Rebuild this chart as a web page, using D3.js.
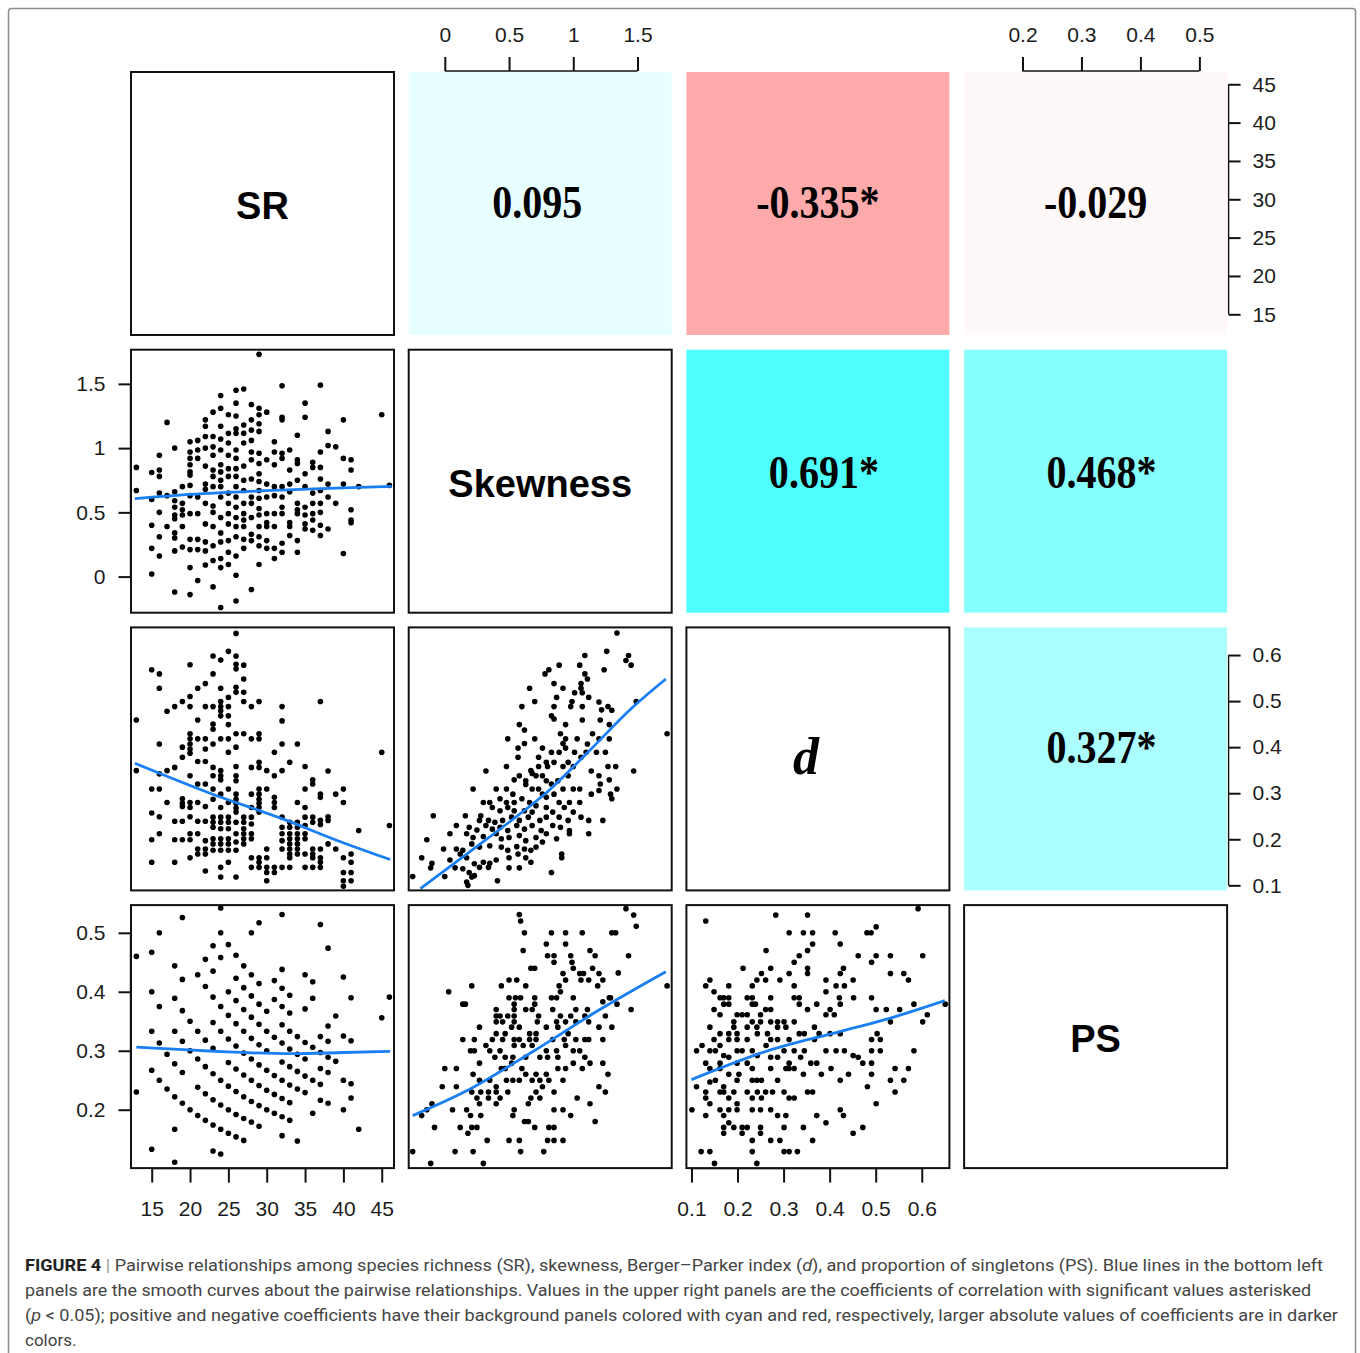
<!DOCTYPE html>
<html>
<head>
<meta charset="utf-8">
<script src="https://cdn.jsdelivr.net/npm/d3@7/dist/d3.min.js"></script>
<style>
body { margin: 0; background: #fff; }
</style>
</head>
<body>
<script>
// variables on the diagonal
var varNames = ["SR", "Skewness", "d", "PS"];

// panel ranges and tick values
var srDomain = [12.3, 46.6];
var skewDomain = [-0.281, 1.766];
var dDomain = [0.089, 0.660];
var psDomain = [0.101, 0.547];

var srTicks = [15, 20, 25, 30, 35, 40, 45];
var skewTicks = [0, 0.5, 1, 1.5];
var dTicks = [0.1, 0.2, 0.3, 0.4, 0.5, 0.6];
var psTicks = [0.2, 0.3, 0.4, 0.5];

// correlation coefficients in the upper panels
var corRow = [0, 0, 0, 1, 1, 2];
var corCol = [1, 2, 3, 2, 3, 3];
var corValue = [0.095, -0.335, -0.029, 0.691, 0.468, 0.327];
var corSig = [false, true, false, true, true, true];

// SR (integer) vs skewness
var srSkew = [
  [13, [0.85, 0.67]],
  [15, [0.81, 0.60, 0.40, 0.22, 0.02]],
  [16, [0.945, 0.83, 0.78, 0.65, 0.50, 0.31, 0.16]],
  [17, [1.20, 0.63, 0.39]],
  [18, [1.0, 0.66, 0.59, 0.54, 0.48, 0.45, 0.34, 0.30, 0.20, -0.12]],
  [19, [0.70, 0.57, 0.52, 0.48, 0.39, 0.23]],
  [20, [1.05, 0.97, 0.92, 0.87, 0.815, 0.79, 0.71, 0.63, 0.49, 0.29, 0.21, 0.07, -0.14]],
  [21, [1.06, 0.985, 0.92, 0.62, 0.49, 0.29, 0.21, -0.03]],
  [22, [1.22, 1.17, 1.09, 1.0, 0.86, 0.72, 0.68, 0.57, 0.41, 0.27, 0.20, 0.09]],
  [23, [1.28, 1.09, 1.01, 0.945, 0.83, 0.78, 0.70, 0.55, 0.50, 0.39, 0.24, 0.125, -0.08]],
  [24, [1.41, 1.31, 1.17, 1.07, 0.985, 0.87, 0.815, 0.75, 0.70, 0.62, 0.46, 0.34, 0.27, 0.14, 0.07, -0.24]],
  [25, [1.26, 1.115, 1.04, 0.945, 0.84, 0.78, 0.65, 0.57, 0.49, 0.41, 0.28, 0.19, 0.094]],
  [26, [1.45, 1.35, 1.25, 1.15, 1.115, 0.985, 0.92, 0.84, 0.78, 0.70, 0.62, 0.54, 0.46, 0.39, 0.31, 0.16, 0.01, -0.19]],
  [27, [1.46, 1.18, 1.115, 1.04, 0.86, 0.75, 0.67, 0.57, 0.49, 0.44, 0.39, 0.29, 0.22]],
  [28, [1.34, 1.22, 1.14, 1.06, 0.97, 0.91, 0.76, 0.62, 0.57, 0.46, 0.33, 0.28, -0.10]],
  [29, [1.73, 1.31, 1.26, 1.19, 1.13, 0.96, 0.88, 0.80, 0.74, 0.67, 0.61, 0.53, 0.48, 0.39, 0.31, 0.24, 0.094]],
  [30, [1.28, 0.91, 0.72, 0.62, 0.49, 0.42, 0.39, 0.28, 0.22]],
  [31, [1.05, 0.97, 0.87, 0.70, 0.63, 0.49, 0.39, 0.22, 0.14]],
  [32, [1.485, 1.24, 1.22, 0.96, 0.92, 0.70, 0.62, 0.54, 0.49, 0.26, 0.19]],
  [33, [0.985, 0.83, 0.72, 0.66, 0.42, 0.39, 0.32]],
  [34, [1.10, 0.91, 0.88, 0.75, 0.57, 0.52, 0.49, 0.28, 0.19]],
  [35, [1.35, 1.24, 0.80, 0.70, 0.54, 0.48, 0.41, 0.37]],
  [36, [0.89, 0.85, 0.65, 0.57, 0.49, 0.44, 0.36]],
  [37, [1.49, 0.97, 0.85, 0.76, 0.67, 0.57, 0.50, 0.40, 0.32]],
  [38, [1.13, 1.02, 0.72, 0.62, 0.37]],
  [39, [1.01, 0.57]],
  [40, [1.22, 0.92, 0.72, 0.18]],
  [41, [0.91, 0.83, 0.52, 0.44, 0.42]],
  [42, [0.70]],
  [45, [1.26]],
  [46, [0.71]]
];

// SR vs Berger-Parker d
var srD = [
  [13, [0.459, 0.349]],
  [15, [0.568, 0.309, 0.257, 0.199, 0.150]],
  [16, [0.559, 0.528, 0.407, 0.342, 0.309, 0.249, 0.212]],
  [17, [0.478, 0.349, 0.280]],
  [18, [0.488, 0.356, 0.239, 0.199, 0.150]],
  [19, [0.499, 0.400, 0.378, 0.288, 0.278, 0.271, 0.239, 0.199]],
  [20, [0.579, 0.510, 0.488, 0.429, 0.418, 0.407, 0.396, 0.387, 0.338, 0.280, 0.269, 0.249, 0.212, 0.199, 0.160]],
  [21, [0.528, 0.459, 0.418, 0.369, 0.320, 0.280, 0.239, 0.212, 0.179, 0.168]],
  [22, [0.538, 0.488, 0.418, 0.396, 0.369, 0.320, 0.271, 0.239, 0.197, 0.179, 0.168, 0.131]],
  [23, [0.598, 0.559, 0.488, 0.450, 0.439, 0.407, 0.356, 0.338, 0.309, 0.287, 0.248, 0.237, 0.226, 0.201, 0.190, 0.176]],
  [24, [0.589, 0.528, 0.499, 0.488, 0.479, 0.468, 0.418, 0.349, 0.338, 0.329, 0.298, 0.269, 0.248, 0.237, 0.223, 0.201, 0.190, 0.176, 0.139, 0.118]],
  [25, [0.608, 0.508, 0.488, 0.468, 0.449, 0.418, 0.389, 0.309, 0.280, 0.248, 0.237, 0.223, 0.201, 0.190, 0.176, 0.150]],
  [26, [0.647, 0.598, 0.580, 0.570, 0.530, 0.519, 0.429, 0.400, 0.358, 0.338, 0.327, 0.298, 0.287, 0.278, 0.268, 0.259, 0.237, 0.212, 0.194, 0.176, 0.118]],
  [27, [0.578, 0.548, 0.519, 0.499, 0.429, 0.248, 0.237, 0.223, 0.212, 0.201, 0.190]],
  [28, [0.488, 0.418, 0.356, 0.298, 0.269, 0.248, 0.233, 0.212, 0.201, 0.160, 0.139]],
  [29, [0.499, 0.429, 0.418, 0.367, 0.356, 0.309, 0.298, 0.287, 0.278, 0.269, 0.259, 0.160, 0.150, 0.139]],
  [30, [0.349, 0.309, 0.179, 0.160, 0.139, 0.128, 0.110]],
  [31, [0.389, 0.338, 0.291, 0.280, 0.269, 0.139, 0.128]],
  [32, [0.488, 0.457, 0.407, 0.349, 0.248, 0.226, 0.212, 0.197, 0.179, 0.139]],
  [33, [0.367, 0.237, 0.226, 0.212, 0.201, 0.190, 0.179, 0.168, 0.160, 0.139]],
  [34, [0.407, 0.280, 0.237, 0.226, 0.212, 0.201, 0.190, 0.179, 0.168]],
  [35, [0.358, 0.309, 0.269, 0.248, 0.230, 0.212, 0.201, 0.168, 0.139]],
  [36, [0.329, 0.320, 0.248, 0.237, 0.179, 0.168, 0.160, 0.139]],
  [37, [0.499, 0.298, 0.291, 0.241, 0.232, 0.179, 0.160, 0.150, 0.139]],
  [38, [0.348, 0.249, 0.241, 0.190]],
  [39, [0.298, 0.179]],
  [40, [0.309, 0.280, 0.160, 0.128, 0.110, 0.098]],
  [41, [0.168, 0.150, 0.128, 0.110]],
  [42, [0.219]],
  [45, [0.389]],
  [46, [0.230]]
];

// SR vs proportion of singletons
var srPS = [
  [13, [0.460, 0.230]],
  [15, [0.467, 0.400, 0.333, 0.267, 0.133]],
  [16, [0.500, 0.375, 0.313, 0.250]],
  [17, [0.294, 0.235]],
  [18, [0.444, 0.389, 0.333, 0.278, 0.222, 0.167, 0.111]],
  [19, [0.526, 0.421, 0.368, 0.316, 0.263, 0.211]],
  [20, [0.350, 0.300, 0.200]],
  [21, [0.429, 0.333, 0.286, 0.238, 0.190]],
  [22, [0.455, 0.409, 0.318, 0.273, 0.227, 0.182]],
  [23, [0.478, 0.435, 0.391, 0.348, 0.304, 0.261, 0.217, 0.174, 0.130]],
  [24, [0.542, 0.500, 0.458, 0.375, 0.333, 0.250, 0.208, 0.167, 0.125]],
  [25, [0.480, 0.400, 0.360, 0.320, 0.280, 0.240, 0.200, 0.160]],
  [26, [0.462, 0.423, 0.385, 0.346, 0.308, 0.269, 0.231, 0.192, 0.154]],
  [27, [0.444, 0.407, 0.370, 0.333, 0.296, 0.259, 0.222, 0.185, 0.148]],
  [28, [0.500, 0.429, 0.393, 0.357, 0.321, 0.286, 0.250, 0.214, 0.179]],
  [29, [0.517, 0.414, 0.379, 0.345, 0.310, 0.276, 0.241, 0.207, 0.172]],
  [30, [0.367, 0.333, 0.300, 0.267, 0.233, 0.200]],
  [31, [0.419, 0.387, 0.323, 0.258, 0.226, 0.194]],
  [32, [0.531, 0.438, 0.406, 0.375, 0.344, 0.313, 0.281, 0.250, 0.219, 0.188, 0.156]],
  [33, [0.394, 0.364, 0.333, 0.303, 0.273, 0.242, 0.212, 0.182]],
  [34, [0.324, 0.294, 0.265, 0.235, 0.147]],
  [35, [0.429, 0.371, 0.314, 0.286, 0.257, 0.229]],
  [36, [0.417, 0.389, 0.306, 0.250, 0.194]],
  [37, [0.514, 0.324, 0.297, 0.270, 0.243, 0.216]],
  [38, [0.474, 0.342, 0.316, 0.289, 0.263, 0.211]],
  [39, [0.359, 0.282]],
  [40, [0.425, 0.325, 0.250, 0.200]],
  [41, [0.390, 0.317, 0.244, 0.220]],
  [42, [0.167]],
  [45, [0.356]],
  [46, [0.391]]
];

// skewness vs d
var skewD = [
  [1.34,0.648],[1.26,0.608],[1.09,0.599],[1.43,0.599],[1.41,0.588],[1.45,0.578],[0.89,0.578],[1.05,0.578],
  [0.81,0.568],[0.78,0.559],[1.24,0.568],[1.09,0.559],[1.11,0.548],[0.85,0.538],[1.06,0.538],[0.66,0.528],
  [0.92,0.528],[1.01,0.518],[1.06,0.528],[1.07,0.518],[0.87,0.508],[1.12,0.508],[0.70,0.499],[0.99,0.499],
  [0.98,0.488],[0.85,0.488],[1.07,0.488],[1.20,0.498],[1.27,0.488],[0.60,0.488],[1.22,0.481],[1.30,0.480],
  [1.49,0.499],[0.83,0.468],[0.85,0.461],[1.07,0.459],[1.21,0.459],[0.94,0.449],[0.58,0.449],[0.62,0.437],
  [1.28,0.449],[1.15,0.429],[0.90,0.429],[0.49,0.418],[0.94,0.418],[0.70,0.418],[1.03,0.418],[0.92,0.408],
  [0.62,0.408],[0.76,0.398],[0.57,0.398],[1.11,0.407],[1.20,0.418],[1.28,0.418],[0.94,0.398],[1.73,0.429],
  [1.25,0.389],[0.83,0.389],[0.89,0.389],[1.01,0.389],[1.10,0.389],[1.18,0.389],[1.06,0.378],[0.57,0.378],
  [0.73,0.378],[0.79,0.367],[0.85,0.367],[0.96,0.367],[0.48,0.358],[0.73,0.358],[0.67,0.349],[0.80,0.358],
  [0.32,0.348],[0.58,0.338],[0.68,0.343],[0.71,0.338],[0.76,0.338],[0.92,0.358],[1.00,0.358],[1.14,0.348],
  [1.27,0.358],[1.33,0.358],[1.47,0.348],[1.20,0.338],[0.54,0.329],[0.63,0.327],[0.79,0.327],[0.83,0.320],
  [0.88,0.327],[0.96,0.338],[1.28,0.329],[0.22,0.309],[0.40,0.309],[0.48,0.309],[0.53,0.298],[0.63,0.319],
  [0.68,0.309],[0.73,0.309],[0.76,0.298],[0.85,0.298],[0.92,0.309],[1.00,0.309],[1.05,0.309],[1.21,0.320],
  [1.20,0.306],[1.29,0.298],[1.34,0.309],[0.30,0.280],[0.35,0.280],[0.43,0.288],[0.48,0.280],[0.54,0.280],
  [0.60,0.288],[0.66,0.280],[0.71,0.273],[0.79,0.291],[0.89,0.280],[0.97,0.280],[1.05,0.280],[1.14,0.298],
  [1.30,0.288],[0.37,0.269],[0.43,0.262],[0.49,0.269],[0.54,0.262],[0.62,0.262],[0.68,0.259],[0.79,0.269],
  [0.84,0.259],[0.93,0.269],[1.00,0.259],[0.28,0.251],[-0.09,0.251],[0.16,0.251],[0.27,0.241],[0.34,0.241],
  [0.39,0.237],[0.45,0.241],[0.52,0.248],[0.58,0.241],[0.65,0.248],[0.74,0.241],[0.79,0.248],[0.89,0.248],
  [0.96,0.241],[1.06,0.248],[1.12,0.241],[1.23,0.241],[0.09,0.230],[0.19,0.226],[0.25,0.220],[0.32,0.230],
  [0.37,0.222],[0.43,0.226],[0.49,0.219],[0.56,0.230],[0.62,0.222],[0.68,0.230],[0.75,0.219],[0.84,0.230],
  [0.90,0.226],[0.97,0.219],[-0.14,0.199],[0.04,0.212],[0.17,0.212],[0.22,0.204],[0.30,0.206],[0.40,0.212],
  [0.44,0.201],[0.50,0.204],[0.58,0.208],[0.63,0.197],[0.71,0.204],[0.79,0.212],[0.87,0.201],[0.97,0.212],
  [1.12,0.212],[-0.01,0.179],[0.09,0.179],[0.14,0.176],[0.21,0.190],[0.27,0.183],[0.35,0.186],[0.44,0.183],
  [0.49,0.176],[0.56,0.184],[0.62,0.179],[0.67,0.176],[0.71,0.183],[0.76,0.194],[-0.18,0.160],[-0.10,0.148],
  [0.04,0.155],[0.12,0.168],[0.17,0.160],[0.23,0.147],[0.30,0.150],[0.35,0.148],[0.40,0.155],[0.50,0.160],
  [0.57,0.168],[0.63,0.160],[0.67,0.150],[0.91,0.168],[0.91,0.160],[-0.25,0.119],[-0.11,0.138],[0.00,0.119],
  [0.08,0.138],[0.14,0.136],[0.19,0.128],[0.27,0.139],[0.34,0.139],[0.50,0.138],[0.58,0.138],[0.83,0.128],
  [0.17,0.107],[0.18,0.100],[0.41,0.110],[0.23,0.121],[0.21,0.118]
];

// skewness vs PS
var skewPS = [
  [1.41,0.541],[1.47,0.530],[1.49,0.511],[0.58,0.531],[0.59,0.520],[0.62,0.500],[0.83,0.500],[0.94,0.500],
  [1.07,0.500],[1.30,0.500],[1.33,0.500],[0.79,0.481],[0.94,0.481],[0.61,0.470],[0.80,0.461],[0.85,0.461],
  [0.85,0.450],[0.98,0.461],[0.99,0.450],[1.13,0.470],[1.17,0.461],[1.43,0.461],[0.67,0.440],[0.70,0.440],
  [1.00,0.440],[0.92,0.431],[1.05,0.431],[1.08,0.431],[1.15,0.440],[1.20,0.431],[1.06,0.420],[1.12,0.420],
  [1.23,0.420],[1.35,0.432],[0.50,0.420],[0.56,0.420],[0.44,0.410],[0.63,0.410],[0.94,0.420],[0.89,0.410],
  [1.19,0.410],[0.03,0.400],[0.21,0.410],[0.90,0.400],[0.87,0.390],[1.00,0.390],[1.28,0.390],[1.29,0.390],
  [0.50,0.390],[0.55,0.390],[0.59,0.390],[0.70,0.390],[0.83,0.390],[0.14,0.379],[0.16,0.379],[0.54,0.379],
  [0.70,0.379],[1.23,0.383],[1.34,0.379],[0.40,0.370],[0.54,0.370],[0.63,0.370],[0.68,0.370],[0.84,0.370],
  [1.02,0.370],[1.11,0.370],[1.45,0.370],[0.40,0.359],[0.43,0.359],[0.49,0.359],[0.54,0.359],[0.73,0.359],
  [0.90,0.359],[0.98,0.359],[1.09,0.359],[1.25,0.359],[0.27,0.340],[0.40,0.349],[0.45,0.349],[0.54,0.349],
  [0.72,0.349],[0.79,0.340],[0.87,0.349],[0.94,0.349],[1.02,0.349],[1.12,0.349],[1.20,0.340],[1.30,0.340],
  [0.40,0.329],[0.47,0.329],[0.52,0.340],[0.58,0.340],[0.66,0.329],[0.71,0.329],[0.88,0.340],[0.96,0.329],
  [0.14,0.319],[0.23,0.319],[0.32,0.309],[0.37,0.319],[0.45,0.319],[0.54,0.319],[0.58,0.319],[0.66,0.319],
  [0.71,0.319],[0.84,0.319],[0.93,0.319],[1.02,0.319],[1.09,0.319],[1.12,0.319],[1.23,0.319],[0.20,0.300],
  [0.23,0.300],[0.35,0.300],[0.43,0.300],[0.54,0.309],[0.61,0.309],[0.68,0.309],[0.79,0.300],[0.87,0.300],
  [0.94,0.309],[1.00,0.300],[1.05,0.300],[1.09,0.289],[0.27,0.279],[0.39,0.289],[0.47,0.289],[0.53,0.289],
  [0.63,0.289],[0.74,0.289],[0.80,0.289],[0.88,0.289],[1.13,0.279],[1.23,0.279],[0.00,0.270],[0.09,0.270],
  [0.22,0.260],[0.44,0.270],[0.47,0.270],[0.52,0.279],[0.60,0.270],[0.63,0.260],[0.71,0.260],[0.79,0.260],
  [0.88,0.270],[0.94,0.270],[1.00,0.279],[1.07,0.270],[1.27,0.260],[-0.02,0.239],[0.09,0.239],[0.27,0.250],
  [0.35,0.250],[0.40,0.239],[0.48,0.250],[0.53,0.250],[0.58,0.250],[0.68,0.250],[0.74,0.250],[0.81,0.250],
  [0.92,0.250],[1.20,0.239],[1.25,0.230],[-0.14,0.200],[-0.10,0.210],[0.06,0.200],[0.21,0.230],[0.28,0.230],
  [0.34,0.230],[0.40,0.230],[0.49,0.230],[0.71,0.230],[0.76,0.239],[0.85,0.230],[0.25,0.220],[0.34,0.220],
  [0.43,0.220],[0.67,0.220],[0.74,0.220],[1.03,0.220],[0.17,0.200],[0.27,0.210],[0.40,0.210],[0.54,0.200],
  [0.65,0.210],[0.85,0.200],[0.92,0.200],[1.13,0.210],[-0.18,0.190],[0.20,0.190],[0.28,0.190],[0.53,0.190],
  [0.62,0.180],[0.65,0.180],[0.98,0.190],[1.17,0.180],[-0.08,0.170],[0.12,0.170],[0.18,0.160],[0.21,0.170],
  [0.25,0.170],[0.70,0.170],[0.81,0.170],[0.85,0.170],[0.33,0.148],[0.50,0.148],[0.58,0.148],[0.80,0.148],
  [0.85,0.148],[0.92,0.148],[-0.25,0.129],[0.08,0.129],[0.22,0.129],[0.59,0.129],[0.77,0.129],[-0.11,0.109],
  [0.30,0.109],[1.73,0.410]
];

// d vs PS
var dPS = [
  [0.131,0.520],[0.283,0.530],[0.352,0.530],[0.592,0.541],[0.312,0.500],[0.343,0.500],[0.363,0.500],[0.412,0.500],
  [0.481,0.500],[0.490,0.500],[0.501,0.510],[0.363,0.481],[0.352,0.470],[0.423,0.481],[0.262,0.470],[0.334,0.461],
  [0.323,0.450],[0.462,0.461],[0.501,0.461],[0.491,0.450],[0.532,0.461],[0.602,0.461],[0.212,0.440],[0.272,0.440],
  [0.352,0.440],[0.312,0.431],[0.352,0.431],[0.252,0.431],[0.242,0.420],[0.261,0.420],[0.292,0.420],[0.430,0.440],
  [0.423,0.431],[0.392,0.420],[0.451,0.420],[0.532,0.431],[0.561,0.431],[0.571,0.420],[0.140,0.420],[0.131,0.410],
  [0.181,0.410],[0.232,0.410],[0.323,0.410],[0.392,0.400],[0.414,0.410],[0.432,0.410],[0.149,0.400],[0.162,0.390],
  [0.170,0.390],[0.181,0.390],[0.221,0.390],[0.232,0.390],[0.272,0.390],[0.323,0.390],[0.334,0.390],[0.421,0.390],
  [0.452,0.390],[0.491,0.390],[0.170,0.379],[0.181,0.379],[0.232,0.379],[0.239,0.379],[0.261,0.370],[0.272,0.370],
  [0.149,0.370],[0.334,0.379],[0.372,0.379],[0.401,0.370],[0.423,0.379],[0.352,0.370],[0.501,0.370],[0.523,0.370],
  [0.552,0.370],[0.583,0.379],[0.651,0.379],[0.162,0.361],[0.199,0.361],[0.210,0.361],[0.221,0.361],[0.250,0.361],
  [0.392,0.361],[0.410,0.361],[0.612,0.361],[0.532,0.349],[0.602,0.349],[0.192,0.349],[0.232,0.349],[0.250,0.349],
  [0.272,0.349],[0.287,0.349],[0.301,0.349],[0.323,0.349],[0.140,0.340],[0.192,0.340],[0.221,0.340],[0.242,0.340],
  [0.287,0.340],[0.305,0.340],[0.367,0.340],[0.162,0.329],[0.181,0.329],[0.199,0.329],[0.243,0.329],[0.265,0.329],
  [0.334,0.329],[0.345,0.329],[0.377,0.329],[0.401,0.329],[0.423,0.329],[0.503,0.329],[0.123,0.309],[0.149,0.319],
  [0.162,0.309],[0.181,0.319],[0.199,0.319],[0.221,0.319],[0.272,0.319],[0.287,0.319],[0.312,0.319],[0.367,0.319],
  [0.491,0.319],[0.510,0.319],[0.111,0.300],[0.140,0.300],[0.152,0.300],[0.170,0.292],[0.199,0.300],[0.210,0.300],
  [0.232,0.300],[0.262,0.309],[0.301,0.300],[0.323,0.300],[0.345,0.300],[0.392,0.300],[0.414,0.300],[0.432,0.300],
  [0.451,0.292],[0.491,0.300],[0.510,0.300],[0.583,0.300],[0.131,0.279],[0.162,0.279],[0.181,0.289],[0.199,0.279],
  [0.221,0.279],[0.243,0.292],[0.272,0.289],[0.287,0.289],[0.312,0.279],[0.337,0.289],[0.359,0.279],[0.372,0.279],
  [0.462,0.289],[0.472,0.279],[0.491,0.279],[0.140,0.270],[0.162,0.270],[0.181,0.260],[0.203,0.260],[0.232,0.270],
  [0.272,0.270],[0.305,0.270],[0.312,0.270],[0.323,0.270],[0.343,0.260],[0.382,0.260],[0.403,0.270],[0.441,0.260],
  [0.491,0.260],[0.542,0.270],[0.571,0.270],[0.111,0.239],[0.140,0.247],[0.152,0.250],[0.170,0.239],[0.199,0.250],
  [0.232,0.250],[0.242,0.250],[0.252,0.250],[0.287,0.250],[0.423,0.250],[0.532,0.250],[0.561,0.250],[0.131,0.230],
  [0.162,0.230],[0.170,0.230],[0.192,0.230],[0.221,0.230],[0.243,0.230],[0.261,0.230],[0.276,0.230],[0.301,0.230],
  [0.352,0.230],[0.363,0.230],[0.482,0.239],[0.542,0.230],[0.131,0.220],[0.140,0.210],[0.181,0.220],[0.199,0.210],
  [0.232,0.220],[0.252,0.220],[0.312,0.220],[0.323,0.220],[0.101,0.200],[0.131,0.190],[0.162,0.200],[0.170,0.190],
  [0.181,0.200],[0.199,0.200],[0.232,0.200],[0.250,0.200],[0.272,0.200],[0.287,0.190],[0.305,0.190],[0.423,0.200],
  [0.430,0.190],[0.501,0.210],[0.372,0.190],[0.170,0.170],[0.181,0.178],[0.192,0.170],[0.210,0.170],[0.221,0.170],
  [0.170,0.160],[0.210,0.160],[0.232,0.148],[0.250,0.170],[0.250,0.160],[0.272,0.148],[0.292,0.148],[0.301,0.170],
  [0.343,0.170],[0.363,0.148],[0.392,0.178],[0.451,0.160],[0.472,0.170],[0.121,0.129],[0.140,0.129],[0.232,0.129],
  [0.301,0.129],[0.312,0.129],[0.330,0.129],[0.150,0.109],[0.242,0.109]
];

// smooth curves (blue lines)
var srSkewFit = [[12.8, 0.607], [20, 0.64], [29, 0.667], [40, 0.69], [46.3, 0.703]];
var srDFit = [[12.8, 0.365], [22.6, 0.30], [32.6, 0.241], [39.1, 0.198], [46.1, 0.156]];
var skewDFit = [[-0.19, 0.093], [0.17, 0.168], [0.50, 0.237], [0.81, 0.306], [1.10, 0.385], [1.46, 0.486], [1.72, 0.548]];
var srPSFit = [[13.0, 0.306], [20.4, 0.301], [24.8, 0.298], [33.5, 0.295], [40, 0.297], [46.1, 0.299]];
var skewPSFit = [[-0.25, 0.19], [0.17, 0.232], [0.68, 0.298], [1.20, 0.369], [1.72, 0.434]];
var dPSFit = [[0.10, 0.251], [0.27, 0.301], [0.42, 0.332], [0.53, 0.355], [0.65, 0.385]];

var captionLines = [
  [["FIGURE 4", "b"], [" | ", "s"], ["Pairwise relationships among species richness (SR), skewness, Berger\u2013Parker index (", ""], ["d", "i"], ["), and proportion of singletons (PS). Blue lines in the bottom left", ""]],
  [["panels are the smooth curves about the pairwise relationships. Values in the upper right panels are the coefficients of correlation with significant values asterisked", ""]],
  [["(", ""], ["p", "i"], [" < 0.05); positive and negative coefficients have their background panels colored with cyan and red, respectively, larger absolute values of coefficients are in darker", ""]],
  [["colors.", ""]]
];

// ---- layout
var W = 1360, H = 1353;
var gridLeft = 131, gridTop = 72, size = 263, step = 277.7;
var sansFont = "'Liberation Sans', Arial, Helvetica, sans-serif";
var serifFont = "'Liberation Serif', 'Times New Roman', serif";
var blue = "#1a7ff2";

var domains = [srDomain, skewDomain, dDomain, psDomain];
var ticks = [srTicks, skewTicks, dTicks, psTicks];

function flatten(cols) {
  var out = [];
  cols.forEach(function(c) { c[1].forEach(function(v) { out.push([c[0], v]); }); });
  return out;
}

var lowerPanels = [
  {row: 1, col: 0, points: flatten(srSkew), fit: srSkewFit},
  {row: 2, col: 0, points: flatten(srD), fit: srDFit},
  {row: 2, col: 1, points: skewD, fit: skewDFit},
  {row: 3, col: 0, points: flatten(srPS), fit: srPSFit},
  {row: 3, col: 1, points: skewPS, fit: skewPSFit},
  {row: 3, col: 2, points: dPS, fit: dPSFit}
];

var xScales = domains.map(function(dom, j) {
  var x0 = gridLeft + j * step;
  return d3.scaleLinear().domain(dom).range([x0, x0 + size]);
});
var yScales = domains.map(function(dom, i) {
  var y0 = gridTop + i * step;
  return d3.scaleLinear().domain(dom).range([y0 + size, y0]);
});

var svg = d3.select("body").append("svg")
  .attr("width", W)
  .attr("height", H);

// outer frame of the figure
svg.append("rect")
  .attr("x", 8.5).attr("y", 8.5)
  .attr("width", 1347).attr("height", 1420)
  .attr("rx", 3)
  .attr("fill", "none")
  .attr("stroke", "#8c8c8c")
  .attr("stroke-width", 1.5);

var defs = svg.append("defs");

// upper panels: coloured by coefficient
var cyanScale = d3.interpolateRgb("#ffffff", "#00ffff");
var redScale = d3.interpolateRgb("#ffffff", "#ff0000");
var coefBaseline = [146, 138, 136];

corValue.forEach(function(r, k) {
  var i = corRow[k], j = corCol[k];
  var x0 = gridLeft + j * step, y0 = gridTop + i * step;
  svg.append("rect")
    .attr("x", x0).attr("y", y0)
    .attr("width", size).attr("height", size)
    .attr("fill", r > 0 ? cyanScale(Math.abs(r)) : redScale(Math.abs(r)));
  // positive starred labels sit a little right of centre in the original
  var shift = r > 0 ? (corSig[k] ? 6 : -3) : 0;
  svg.append("text")
    .attr("transform", "translate(" + (x0 + size / 2 + shift) + "," + (y0 + coefBaseline[i]) + ") scale(0.87,1)")
    .attr("text-anchor", "middle")
    .attr("font-family", serifFont)
    .attr("font-weight", "bold")
    .attr("font-size", 46)
    .attr("fill", "#000")
    .text(r.toFixed(3) + (corSig[k] ? "*" : ""));
});

// diagonal panels: variable names
varNames.forEach(function(name, i) {
  var x0 = gridLeft + i * step, y0 = gridTop + i * step;
  svg.append("rect")
    .attr("x", x0).attr("y", y0)
    .attr("width", size).attr("height", size)
    .attr("fill", "#fff")
    .attr("stroke", "#111")
    .attr("stroke-width", 2);
  var t = svg.append("text")
    .attr("x", x0 + size / 2)
    .attr("y", y0 + 147)
    .attr("text-anchor", "middle")
    .attr("fill", "#000")
    .text(name);
  if (name === "d") {
    t.attr("font-family", serifFont).attr("font-style", "italic")
      .attr("font-weight", "bold").attr("font-size", 52).attr("dx", -12);
  } else {
    t.attr("font-family", sansFont).attr("font-weight", "bold").attr("font-size", 38);
  }
});

// lower panels: scatter + smooth
var line = d3.line().curve(d3.curveMonotoneX);

lowerPanels.forEach(function(p, k) {
  var x = xScales[p.col], y = yScales[p.row];
  var x0 = gridLeft + p.col * step, y0 = gridTop + p.row * step;
  var clipId = "clip" + k;
  defs.append("clipPath").attr("id", clipId)
    .append("rect").attr("x", x0).attr("y", y0).attr("width", size).attr("height", size);

  var g = svg.append("g").attr("clip-path", "url(#" + clipId + ")");
  g.selectAll("circle")
    .data(p.points)
    .enter()
    .append("circle")
    .attr("cx", function(d) { return x(d[0]); })
    .attr("cy", function(d) { return y(d[1]); })
    .attr("r", 2.8)
    .attr("fill", "#000");

  g.append("path")
    .attr("d", line.x(function(d) { return x(d[0]); }).y(function(d) { return y(d[1]); })(p.fit))
    .attr("fill", "none")
    .attr("stroke", blue)
    .attr("stroke-width", 2.8);

  svg.append("rect")
    .attr("x", x0).attr("y", y0)
    .attr("width", size).attr("height", size)
    .attr("fill", "none")
    .attr("stroke", "#111")
    .attr("stroke-width", 2);
});

// axes, alternating sides like R's pairs()
function addAxis(orient, idx, pos) {
  var horiz = (orient === "top" || orient === "bottom");
  var scale = horiz ? xScales[idx] : yScales[idx];
  var gen = orient === "top" ? d3.axisTop(scale)
          : orient === "bottom" ? d3.axisBottom(scale)
          : orient === "left" ? d3.axisLeft(scale)
          : d3.axisRight(scale);
  var pad = orient === "top" ? 15 : orient === "bottom" ? 18 : orient === "left" ? 13 : 12;
  gen.tickValues(ticks[idx])
    .tickFormat(function(v) { return String(v); })
    .tickSizeInner(horiz ? 14 : 12)
    .tickSizeOuter(0)
    .tickPadding(pad);

  var g = svg.append("g")
    .attr("transform", horiz ? "translate(0," + pos + ")" : "translate(" + pos + ",0)")
    .call(gen)
    .attr("font-family", sansFont)
    .attr("font-size", 21);
  g.select(".domain").remove();
  g.selectAll(".tick line").attr("stroke", "#111").attr("stroke-width", 2);
  g.selectAll(".tick text").attr("fill", "#1c1c1c");

  var tv = ticks[idx];
  var a = scale(tv[0]), b = scale(tv[tv.length - 1]);
  g.append("line")
    .attr("x1", horiz ? a : 0).attr("x2", horiz ? b : 0)
    .attr("y1", horiz ? 0 : a).attr("y2", horiz ? 0 : b)
    .attr("stroke", "#111")
    .attr("stroke-width", 1.4);
}

var gridRight = gridLeft + 3 * step + size;
var gridBottom = gridTop + 3 * step + size;
addAxis("top", 1, gridTop - 1);
addAxis("top", 3, gridTop - 1);
addAxis("bottom", 0, gridBottom + 0.5);
addAxis("bottom", 2, gridBottom + 0.5);
addAxis("left", 1, gridLeft - 0.5);
addAxis("left", 3, gridLeft - 0.5);
addAxis("right", 0, gridRight + 1.5);
addAxis("right", 2, gridRight + 1.5);

// caption
var captionWidths = [1298, 1286, 1313, null];
var cap = svg.append("g")
  .attr("font-family", "Roboto, 'Open Sans', sans-serif")
  .attr("font-size", 17);

captionLines.forEach(function(segs, li) {
  var t = cap.append("text")
    .attr("x", 25)
    .attr("y", 1271 + li * 25)
    .attr("fill", "#444");
  segs.forEach(function(s) {
    var ts = t.append("tspan").text(s[0]);
    if (s[1] === "b") ts.attr("font-weight", "bold").attr("fill", "#222");
    if (s[1] === "s") ts.attr("fill", "#999");
    if (s[1] === "i") ts.attr("font-style", "italic");
  });
  if (captionWidths[li]) {
    t.attr("textLength", captionWidths[li]).attr("lengthAdjust", "spacingAndGlyphs");
  }
});
</script>
</body>
</html>
